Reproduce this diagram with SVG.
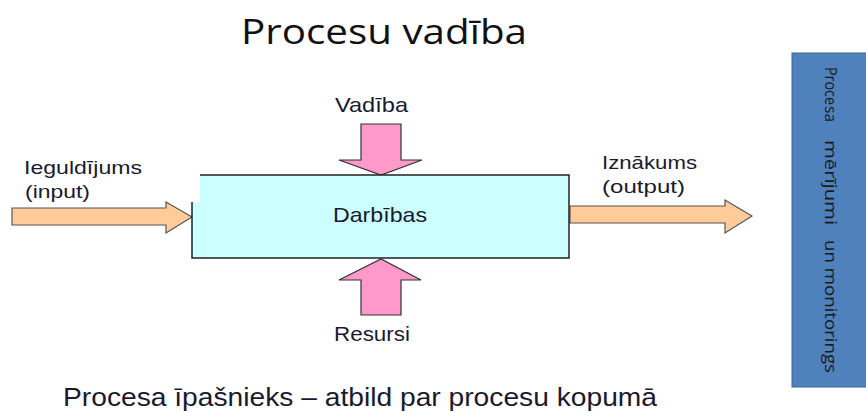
<svg xmlns="http://www.w3.org/2000/svg" width="866" height="412" viewBox="0 0 866 412">
<style>
.t{font-family:"Liberation Sans",Arial,sans-serif;font-size:19px;fill:#1a1a2e}
.l{font-size:21px}
.ttl{font-family:"Open Sans","Noto Sans",sans-serif;font-size:35px;fill:#111}
.pink{fill:#FF99CC;stroke:#333;stroke-width:1.2}
.orange{fill:#FFCC99;stroke:#555;stroke-width:1.2}
</style>
<rect width="866" height="412" fill="#fff"/>
<text class="ttl" x="241" y="44" textLength="286" lengthAdjust="spacingAndGlyphs">Procesu vadība</text>
<g id="connectors">
<path class="orange" d="M12,208 L166,208 L166,202 L192,217 L166,233 L166,225 L12,225 Z"/>
<path class="orange" d="M570,206 L725,206 L725,200 L752,216 L725,233 L725,223 L570,223 Z"/>
<path class="pink" d="M361,124 L401,124 L401,160 L422,160 L381,175 L339,160 L361,160 Z"/>
<path class="pink" d="M361,315 L401,315 L401,280 L421,280 L381,259 L339,280 L361,280 Z"/>
</g>
<g id="node-darbibas">
<rect x="192" y="175" width="377" height="83" fill="#CCFFFF" stroke="#222" stroke-width="1.5"/>
<rect x="191" y="174" width="9" height="28" fill="#fff"/>
<text class="t l" x="333" y="222" textLength="94" lengthAdjust="spacingAndGlyphs">Darbības</text>
</g>
<g id="node-input">
<text class="t" x="24" y="174" textLength="118" lengthAdjust="spacingAndGlyphs">Ieguldījums</text>
<text class="t" x="25" y="198" textLength="65" lengthAdjust="spacingAndGlyphs">(input)</text>
</g>
<g id="node-output">
<text class="t" x="602" y="169" textLength="95" lengthAdjust="spacingAndGlyphs">Iznākums</text>
<text class="t" x="602" y="193" textLength="83" lengthAdjust="spacingAndGlyphs">(output)</text>
</g>
<g id="node-vadiba">
<text class="t l" x="335" y="112" textLength="73" lengthAdjust="spacingAndGlyphs">Vadība</text>
</g>
<g id="node-resursi">
<text class="t l" x="334" y="341" textLength="76" lengthAdjust="spacingAndGlyphs">Resursi</text>
</g>
<g id="node-monitorings">
<rect x="792" y="53" width="80" height="334" fill="#4F81BD" stroke="#3A6596" stroke-width="1"/>
<text transform="translate(825,0) rotate(90)" style="font-family:'Open Sans','Noto Sans',sans-serif;font-size:16px;fill:#1a1a1a"><tspan x="67" y="0" textLength="38" lengthAdjust="spacingAndGlyphs">Proce</tspan> <tspan x="106" y="0" textLength="16" lengthAdjust="spacingAndGlyphs">sa</tspan> <tspan x="140" y="0" textLength="85" lengthAdjust="spacingAndGlyphs">mērījumi</tspan> <tspan x="240" y="0" textLength="133" lengthAdjust="spacingAndGlyphs">un monitorings</tspan></text>
</g>
<text class="t" x="63" y="406" style="font-size:25px" textLength="594" lengthAdjust="spacingAndGlyphs">Procesa īpašnieks – atbild par procesu kopumā</text>
</svg>
